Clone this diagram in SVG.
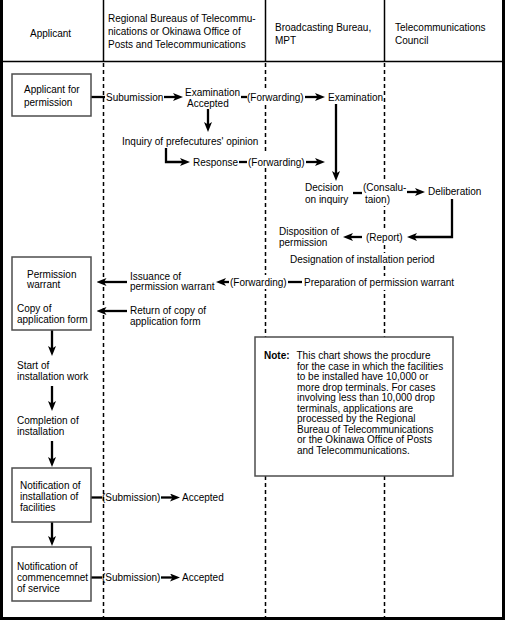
<svg xmlns="http://www.w3.org/2000/svg" width="505" height="620" viewBox="0 0 505 620">
<style>
.t{font-family:"Liberation Sans",Arial,sans-serif;font-size:10px;fill:#000}
.b{font-weight:bold}
.box{fill:#fff;stroke:#4d4d4d;stroke-width:1.5}
.bg{fill:#fff}
.c{stroke:#000;stroke-width:2.3;fill:none}
.a{marker-end:url(#ah)}
.lane{stroke:#000;stroke-width:1.5;stroke-dasharray:4 3}
.hl{stroke:#000;stroke-width:1.5}
</style>
<defs>
<marker id="ah" viewBox="0 0 10 8" refX="3" refY="4" markerWidth="10" markerHeight="8" markerUnits="userSpaceOnUse" orient="auto">
<path d="M0,0 L10,4 L0,8 L2.5,4 z" fill="#000"/>
</marker>
</defs>
<rect width="505" height="620" fill="#fff"/>
<g id="frame">
<rect x="0" y="0" width="3" height="620" fill="#000"/>
<rect x="502" y="0" width="3" height="620" fill="#000"/>
<rect x="0" y="617" width="505" height="3" fill="#000"/>
<line class="hl" x1="0" y1="61.5" x2="505" y2="61.5"/>
<line class="hl" x1="103.5" y1="0" x2="103.5" y2="61.5"/>
<line class="hl" x1="265.5" y1="0" x2="265.5" y2="61.5"/>
<line class="hl" x1="384.5" y1="0" x2="384.5" y2="61.5"/>
<line class="lane" x1="103.5" y1="63" x2="103.5" y2="617"/>
<line class="lane" x1="265.5" y1="63" x2="265.5" y2="617"/>
<line class="lane" x1="384.5" y1="63" x2="384.5" y2="617"/>
</g>
<g id="header">
<text class="t" x="30" y="37">Applicant</text>
<text class="t" x="108" y="22">Regional Bureaus of Telecommu-</text>
<text class="t" x="108" y="35">nications or Okinawa Office of</text>
<text class="t" x="108" y="48">Posts and Telecommunications</text>
<text class="t" x="275" y="30.5">Broadcasting Bureau,</text>
<text class="t" x="275" y="43.5">MPT</text>
<text class="t" x="395" y="30.5">Telecommunications</text>
<text class="t" x="395" y="43.5">Council</text>
</g>
<g id="connectors">
<line class="c" x1="91" y1="97" x2="105" y2="97"/>
<line class="c a" x1="164" y1="97" x2="176" y2="97"/>
<line class="c" x1="241" y1="97" x2="247" y2="97"/>
<line class="c a" x1="305" y1="97" x2="318" y2="97"/>
<line class="c a" x1="208" y1="109" x2="208" y2="125"/>
<path class="c a" d="M166,148 V162 H183"/>
<line class="c" x1="239" y1="162" x2="247" y2="162"/>
<line class="c a" x1="306" y1="162" x2="318" y2="162"/>
<line class="c a" x1="336" y1="104" x2="336" y2="174"/>
<line class="c" x1="353" y1="193" x2="362" y2="193"/>
<line class="c a" x1="407" y1="192" x2="418" y2="192"/>
<path class="c a" d="M452,199 V237 H414"/>
<line class="c a" x1="362" y1="237" x2="350" y2="237"/>
<line class="c" x1="288" y1="282" x2="302" y2="282"/>
<line class="c a" x1="229" y1="282" x2="223" y2="282"/>
<line class="c a" x1="127" y1="282" x2="103.5" y2="282"/>
<line class="c a" x1="127" y1="311" x2="103.5" y2="311"/>
<line class="c a" x1="52" y1="330" x2="52" y2="349"/>
<line class="c a" x1="52" y1="386" x2="52" y2="404"/>
<line class="c a" x1="52" y1="441" x2="52" y2="460"/>
<line class="c a" x1="52" y1="522" x2="52" y2="539"/>
<line class="c" x1="91" y1="497.5" x2="102" y2="497.5"/>
<line class="c a" x1="161" y1="497.5" x2="173" y2="497.5"/>
<line class="c" x1="91" y1="577.5" x2="102" y2="577.5"/>
<line class="c a" x1="161" y1="577.5" x2="173" y2="577.5"/>
</g>
<g id="applicant-for-permission">
<rect class="box" x="12" y="74" width="79" height="42"/>
<text class="t" x="24" y="92.5">Applicant for</text>
<text class="t" x="24" y="105.5">permission</text>
</g>
<g id="submission"><text class="t" x="106" y="100.5">Subumission</text></g>
<g id="examination-accepted">
<text class="t" x="185" y="95.5">Examination</text>
<text class="t" x="187" y="106.5">Accepted</text>
</g>
<g id="forwarding-1">
<rect class="bg" x="247" y="89" width="58" height="14"/>
<text class="t" x="247" y="100.5">(Forwarding)</text>
</g>
<g id="examination-mpt"><text class="t" x="328" y="100.5">Examination</text></g>
<g id="inquiry"><text class="t" x="122" y="145">Inquiry of prefecutures' opinion</text></g>
<g id="response"><text class="t" x="193" y="165.5">Response</text></g>
<g id="forwarding-2">
<rect class="bg" x="248" y="154" width="58" height="14"/>
<text class="t" x="248" y="165.5">(Forwarding)</text>
</g>
<g id="decision">
<text class="t" x="305" y="190.5">Decision</text>
<text class="t" x="305" y="202.5">on inquiry</text>
</g>
<g id="consultation">
<rect class="bg" x="363" y="181" width="44" height="25"/>
<text class="t" x="363" y="190.5">(Consalu-</text>
<text class="t" x="365" y="202.5">taion)</text>
</g>
<g id="deliberation"><text class="t" x="428" y="195">Deliberation</text></g>
<g id="report">
<rect class="bg" x="366" y="229" width="38" height="14"/>
<text class="t" x="366" y="240.5">(Report)</text>
</g>
<g id="disposition">
<text class="t" x="279" y="234.5">Disposition of</text>
<text class="t" x="279" y="246">permission</text>
</g>
<g id="designation">
<rect class="bg" x="289" y="253" width="168" height="13"/>
<text class="t" x="290" y="262.5">Designation of installation period</text>
</g>
<g id="preparation">
<rect class="bg" x="303" y="276" width="154" height="14"/>
<text class="t" x="304" y="286">Preparation of permission warrant</text>
</g>
<g id="forwarding-3">
<rect class="bg" x="230" y="275" width="57" height="14"/>
<text class="t" x="230" y="286">(Forwarding)</text>
</g>
<g id="issuance">
<text class="t" x="130" y="279.5">Issuance of</text>
<text class="t" x="130" y="290">permission warrant</text>
</g>
<g id="return">
<text class="t" x="130" y="313.5">Return of copy of</text>
<text class="t" x="130" y="324.5">application form</text>
</g>
<g id="permission-warrant">
<rect class="box" x="12" y="257" width="79" height="73"/>
<text class="t" x="27" y="277.5">Permission</text>
<text class="t" x="27" y="288">warrant</text>
<text class="t" x="17" y="312">Copy of</text>
<text class="t" x="17" y="323">application form</text>
</g>
<g id="start-work">
<text class="t" x="17" y="369">Start of</text>
<text class="t" x="17" y="380">installation work</text>
</g>
<g id="completion">
<text class="t" x="17" y="424">Completion of</text>
<text class="t" x="17" y="434.5">installation</text>
</g>
<g id="notification-installation">
<rect class="box" x="12" y="468" width="79" height="54"/>
<text class="t" x="20" y="488.5">Notification of</text>
<text class="t" x="20" y="500">installation of</text>
<text class="t" x="20" y="511">facilities</text>
</g>
<g id="submission-2"><text class="t" x="102" y="501">(Submission)</text></g>
<g id="accepted-2"><text class="t" x="182" y="501">Accepted</text></g>
<g id="notification-commencement">
<rect class="box" x="12" y="547" width="79" height="54"/>
<text class="t" x="17" y="569.5">Notification of</text>
<text class="t" x="17" y="581">commencemnet</text>
<text class="t" x="17" y="592">of service</text>
</g>
<g id="submission-3"><text class="t" x="102" y="581">(Submission)</text></g>
<g id="accepted-3"><text class="t" x="182" y="581">Accepted</text></g>
<g id="note">
<rect class="box" x="255" y="337" width="198" height="139"/>
<text class="t b" x="264" y="359">Note:</text>
<text class="t" x="296.5" y="359">This chart shows the procdure</text>
<text class="t" x="297" y="369.5">for the case in which the facilities</text>
<text class="t" x="297" y="380">to be installed have 10,000 or</text>
<text class="t" x="297" y="390.5">more drop terminals. For cases</text>
<text class="t" x="297" y="401">involving less than 10,000 drop</text>
<text class="t" x="297" y="411.5">terminals, applications are</text>
<text class="t" x="297" y="422">processed by the Regional</text>
<text class="t" x="297" y="432.5">Bureau of Telecommunications</text>
<text class="t" x="297" y="443">or the Okinawa Office of Posts</text>
<text class="t" x="297" y="453.5">and Telecommunications.</text>
</g>
</svg>
